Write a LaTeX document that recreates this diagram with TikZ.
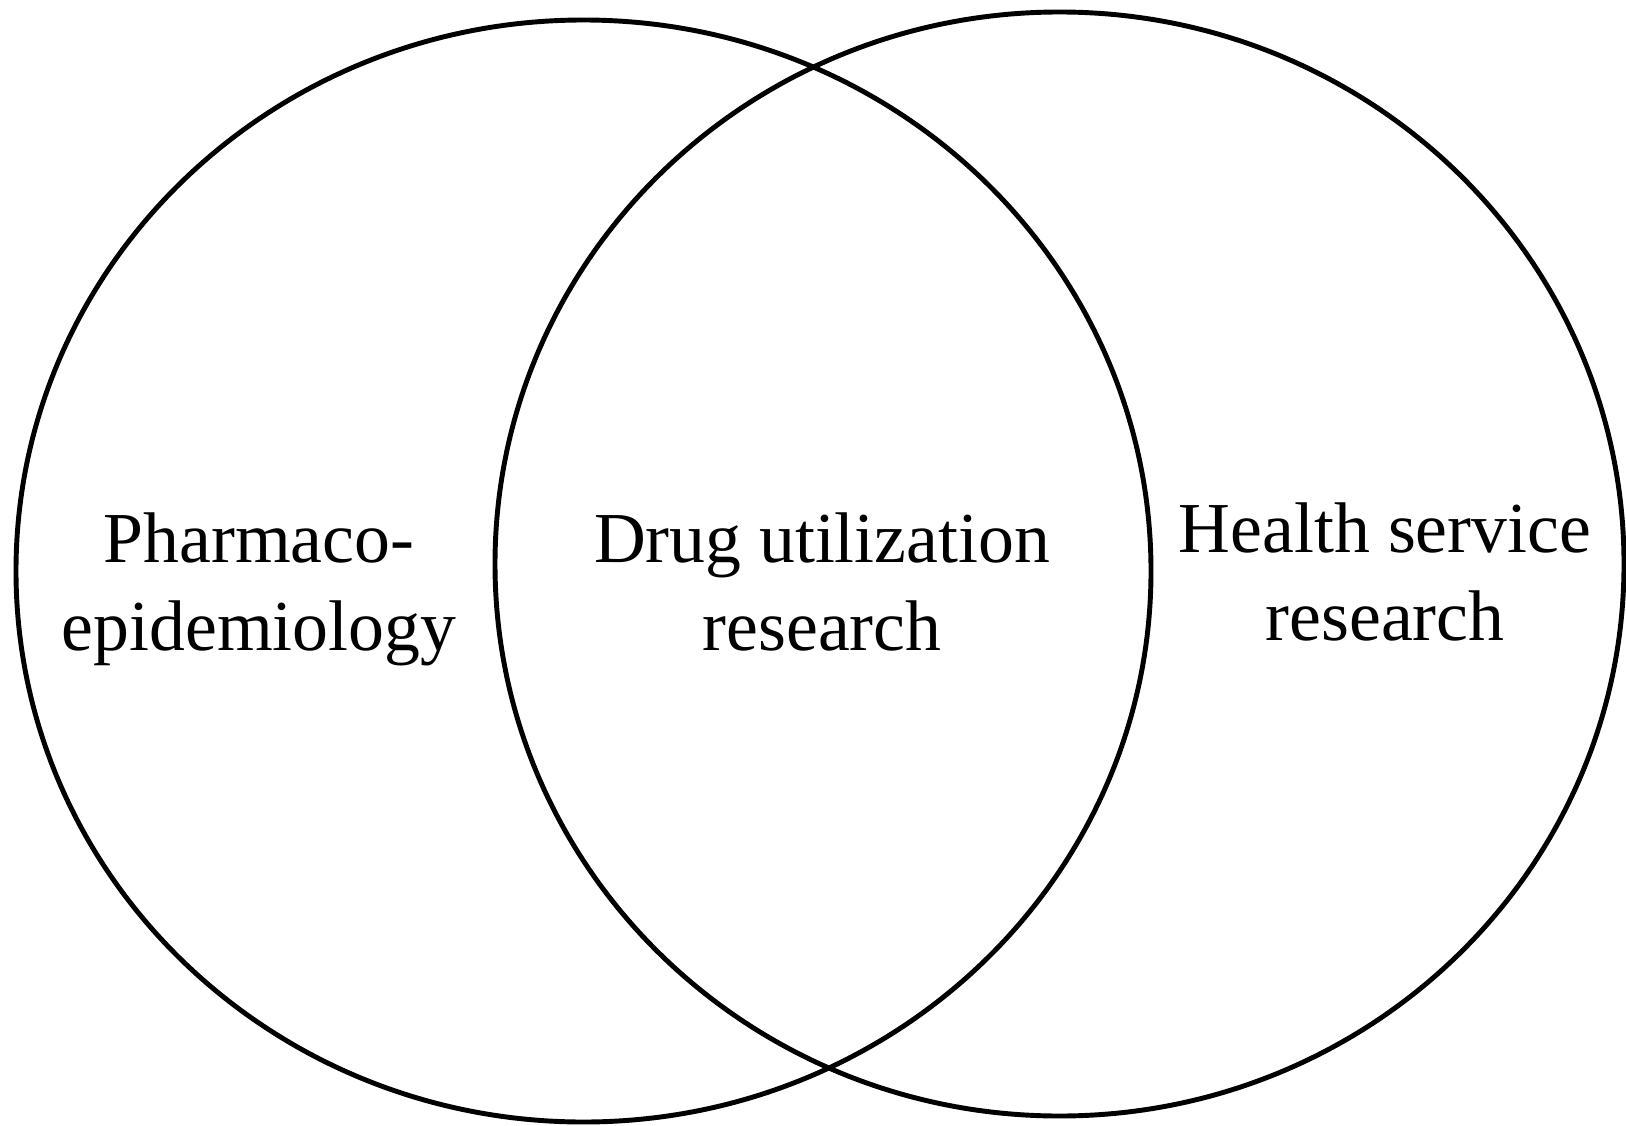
\documentclass[tikz,border=0pt]{standalone}
\usepackage{fontspec}
\setmainfont{Liberation Serif}
\usepackage{tikz}
\usetikzlibrary{positioning}
\tikzset{
  field/.style={draw=black, line width=1.4pt},
  fieldtext/.style={align=center, inner sep=0pt, font=\fontsize{20.4}{25}\selectfont},
}

\begin{document}
\begin{tikzpicture}
  \useasboundingbox (0,0) rectangle (16.26,11.25);

  % --- the two fields -------------------------------------------------------
  \coordinate (pharmaco) at (5.835,5.54);
  \coordinate (health) at (10.595,5.61);
  \draw[field] (pharmaco) ellipse [x radius=5.675, y radius=5.51];
  \draw[field] (health) ellipse [x radius=5.645, y radius=5.52];

  % --- labels ---------------------------------------------------------------
  \node[fieldtext] (pharmacotext) at (2.59,5.36) {Pharmaco-\\epidemiology};
  \node[fieldtext] (drugtext) at (8.22,5.43) {Drug utilization\\research};
  \node[fieldtext] (healthtext) at (13.85,5.53) {Health service\\research};

\end{tikzpicture}
\end{document}
